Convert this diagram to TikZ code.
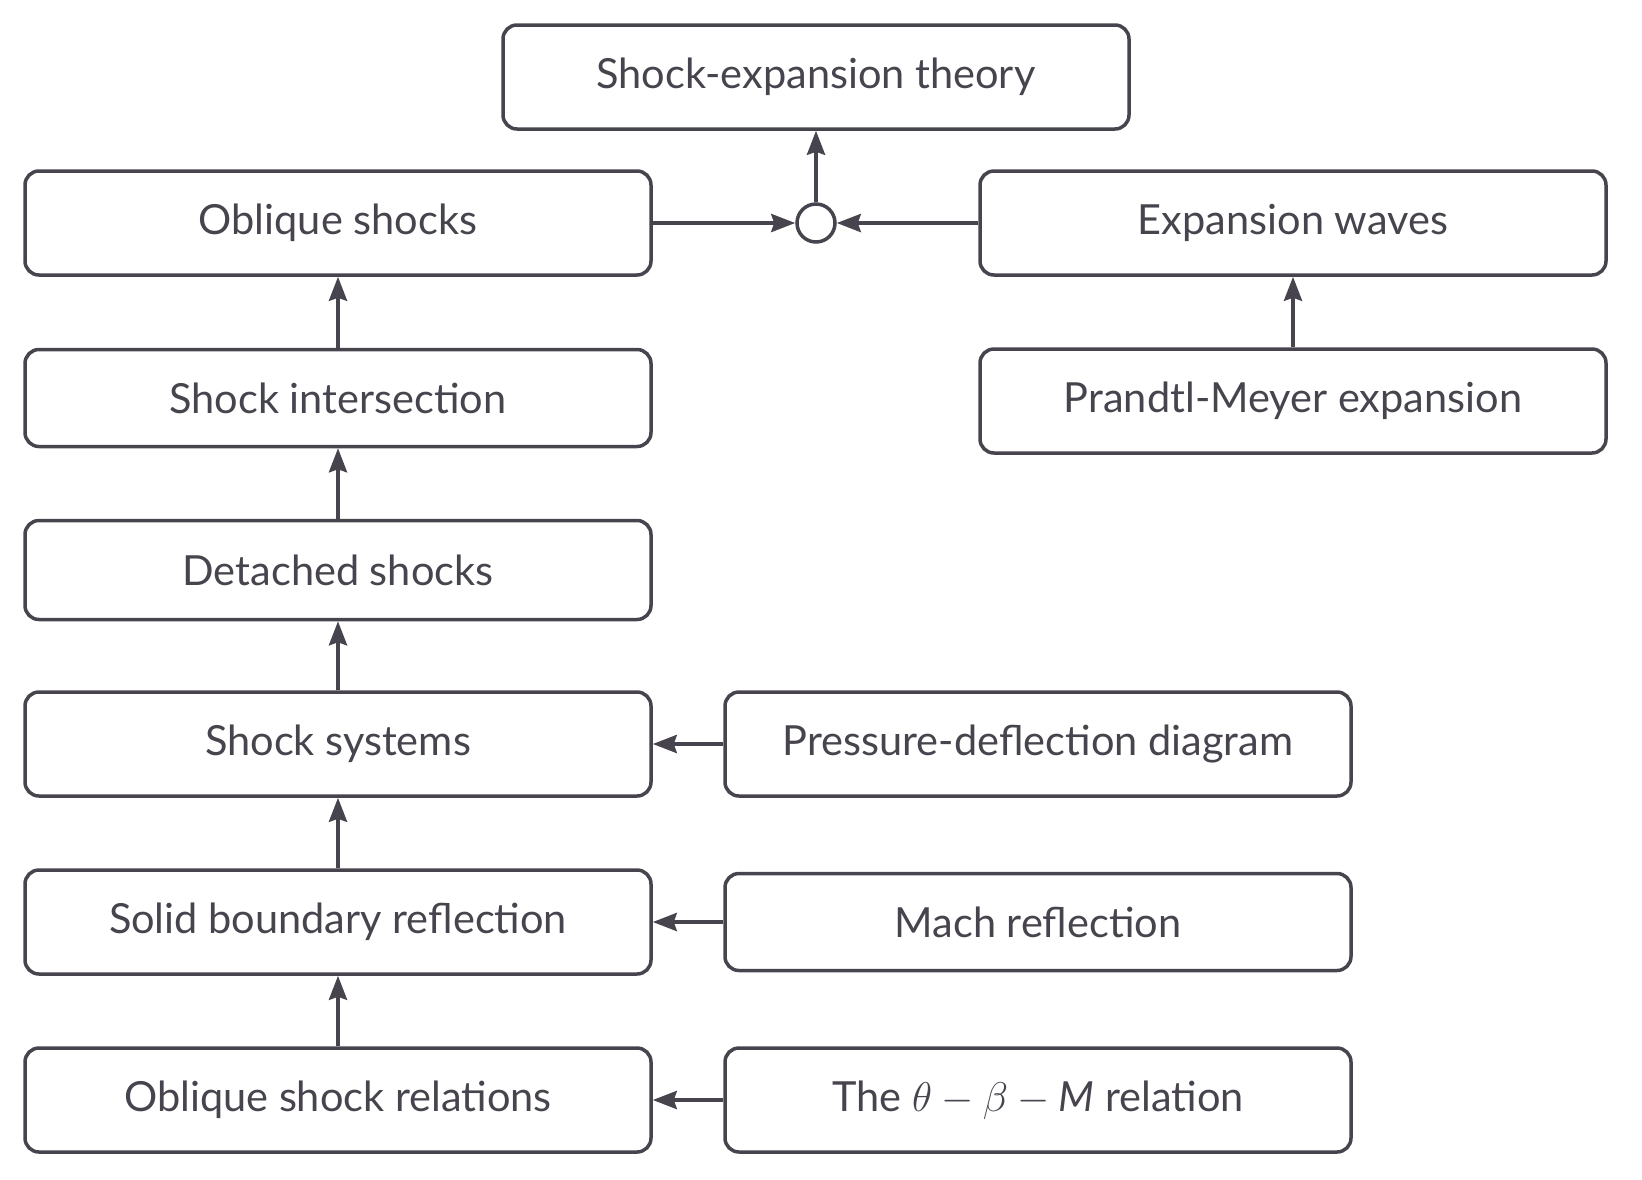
\RequirePackage{fix-cm}
\documentclass[tikz,border=0pt]{standalone}
\usepackage{fontspec}
\setmainfont{Lato}
\usetikzlibrary{arrows.meta,positioning}
\definecolor{ink}{RGB}{72,68,78}
\tikzset{
  box/.style={draw=ink,line width=3.5pt,rounded corners=14pt,fill=white,
    minimum width=626pt,minimum height=104pt,text=ink,
    font=\fontsize{41.5}{45}\selectfont,align=center,inner sep=0pt},
  ar/.style={draw=ink,line width=4pt,-{Stealth[length=24pt,width=18pt,inset=3pt]}},
  jn/.style={circle,draw=ink,line width=3.5pt,fill=white,minimum size=38pt,inner sep=0pt},
}

\begin{document}
\begin{tikzpicture}[x=1pt,y=-1pt]
  \useasboundingbox (0,0) rectangle (1642,1179);
  % top
  \node[box] (sxt) at (816,77) {Shock-expansion theory};
  \node[jn]  (join) at (816,223) {};
  % left column
  \node[box] (obl) at (338,223)  {Oblique shocks};
  \node[box,minimum height=97pt] (inter) at (338,398) {Shock intersection};
  \node[box,minimum height=99pt] (det) at (338,570) {Detached shocks};
  \node[box] (sys) at (338,744)  {Shock systems};
  \node[box] (solid) at (338,922) {Solid boundary reflection};
  \node[box] (rel) at (338,1100) {Oblique shock relations};
  % right column
  \node[box] (exp) at (1293,223) {Expansion waves};
  \node[box] (pm) at (1293,401)  {Prandtl-Meyer expansion};
  % middle column
  \node[box] (pdd) at (1038,744)  {Pressure-deflection diagram};
  \node[box,minimum height=97pt] (mach) at (1038,922) {Mach reflection};
  \node[box] (tbm) at (1038,1100) {The $\theta-\beta-\mathit{M}$ relation};
  % connectors
  \draw[ar] (join) -- (sxt);
  \draw[ar] (obl) -- (join);
  \draw[ar] (exp) -- (join);
  \draw[ar] (inter) -- (obl);
  \draw[ar] (det) -- (inter);
  \draw[ar] (sys) -- (det);
  \draw[ar] (solid) -- (sys);
  \draw[ar] (rel) -- (solid);
  \draw[ar] (pm) -- (exp);
  \draw[ar] (pdd) -- (sys);
  \draw[ar] (mach) -- (solid);
  \draw[ar] (tbm) -- (rel);
\end{tikzpicture}
\end{document}
